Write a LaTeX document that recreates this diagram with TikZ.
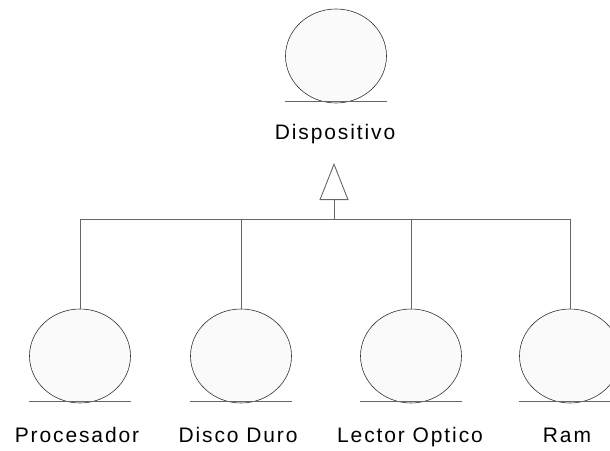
\documentclass[tikz,border=0pt]{standalone}
\usepackage{fontspec}
\usepackage{tikz}
\usetikzlibrary{arrows.meta,shapes.geometric}
\newfontfamily\etiq[LetterSpace=9]{Liberation Sans}
\newcommand{\etiqfont}{\etiq\fontsize{21pt}{25pt}\selectfont}

\begin{document}
\begin{tikzpicture}[
    x=1pt, y=-1pt,
    clase/.style={ellipse, draw=black!80, fill=black!2, line width=0.6pt, minimum width=101pt, minimum height=94pt, inner sep=0pt},
    etiqueta/.style={font=\etiqfont, anchor=base, inner sep=0pt},
    linea/.style={draw=black!60, line width=0.9pt},
    herencia/.style={linea, -{Triangle[open, width=29pt, length=37pt, line width=0.9pt]}}
]
\useasboundingbox (0,0) rectangle (610,450);

\node[clase] (disp) at (336,56) {};
\node[clase] (proc) at (80,356) {};
\node[clase] (disco) at (241,356) {};
\node[clase] (lector) at (411,356) {};
\node[clase] (ram) at (570,356) {};

% lineas de apoyo bajo cada clase
\foreach \c in {disp,proc,disco,lector,ram}
    \draw[linea] ([yshift=2pt]\c.south -| \c.west) -- ([yshift=2pt]\c.south -| \c.east);

\node[etiqueta] (tdisp) at (335,139) {Dispositivo};
\node[etiqueta] (tproc) at (77,442) {Procesador};
\node[etiqueta] (tdisco) at (238,442) {Disco Duro};
\node[etiqueta] (tlector) at (410,442) {Lector Optico};
\node[etiqueta] (tram) at (567,442) {Ram};

\coordinate (barra) at (334,219);
\coordinate (punta) at (334,163);

\draw[herencia] (barra) -- (punta);
\draw[linea] (proc.north) |- (barra);
\draw[linea] (ram.north) |- (barra);
\draw[linea] (disco.north) -- (disco.north |- barra);
\draw[linea] (lector.north) -- (lector.north |- barra);
\end{tikzpicture}
\end{document}
